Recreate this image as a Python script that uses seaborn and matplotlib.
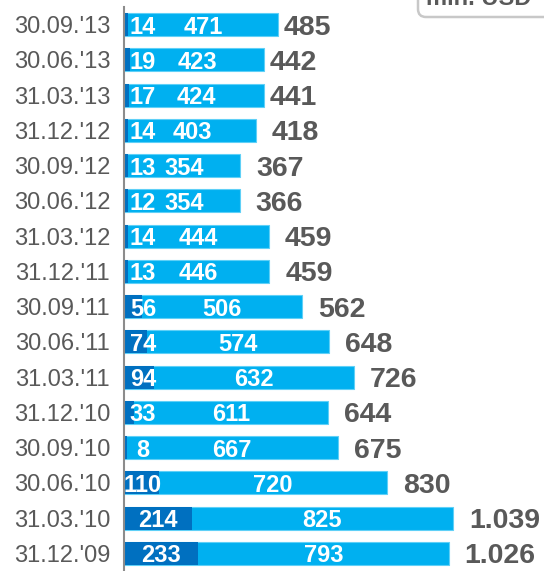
import pandas as pd
import numpy as np
import matplotlib
matplotlib.use("Agg")
import matplotlib.pyplot as plt
import matplotlib.patches as mpatches
from matplotlib.transforms import IdentityTransform
import seaborn as sns

# =============================
# data (top row first)
# =============================
periods = ["30.09.'13", "30.06.'13", "31.03.'13", "31.12.'12", "30.09.'12", "30.06.'12",
           "31.03.'12", "31.12.'11", "30.09.'11", "30.06.'11", "31.03.'11", "31.12.'10",
           "30.09.'10", "30.06.'10", "31.03.'10", "31.12.'09"]
dark_vals = [14, 19, 17, 14, 13, 12, 14, 13, 56, 74, 94, 33, 8, 110, 214, 233]
light_vals = [471, 423, 424, 403, 354, 354, 444, 446, 506, 574, 632, 611, 667, 720, 825, 793]
totals = [485, 442, 441, 418, 367, 366, 459, 459, 562, 648, 726, 644, 675, 830, 1039, 1026]
total_labels = ["485", "442", "441", "418", "367", "366", "459", "459", "562", "648",
                "726", "644", "675", "830", "1.039", "1.026"]
unit_label = "mln. USD"

DARK = "#0070C0"
LIGHT = "#00B0F0"
GREY_TXT = "#595959"
AXIS_GREY = "#8c8c8c"

df = pd.DataFrame({"period": periods, "dark": dark_vals, "light": light_vals})
df["stack"] = df["dark"] + df["light"]

sns.set_style("white")
plt.rcParams["font.family"] = ["Liberation Sans", "DejaVu Sans"]

W, H = 544, 571
fig = plt.figure(figsize=(W / 100, H / 100), dpi=100)

# axes geometry (pixels)
x_axis = 124
top_px = 7
ax = fig.add_axes([x_axis / W, 0, 418 / W, (H - top_px) / H])

sns.barplot(data=df, y="period", x="stack", color=LIGHT, orient="h", width=0.65,
            saturation=1, ax=ax, edgecolor="#5fd0f7", linewidth=0.8)
sns.barplot(data=df, y="period", x="dark", color=DARK, orient="h", width=0.65,
            saturation=1, ax=ax, linewidth=0)

ax.set_xlim(0, 1320)
ax.set_ylim(15.45, -0.5)
ax.set_xlabel("")
ax.set_ylabel("")
ax.set_xticks([])

# spines
for s in ["top", "right", "bottom"]:
    ax.spines[s].set_visible(False)
ax.spines["left"].set_color(AXIS_GREY)
ax.spines["left"].set_linewidth(1.5)

# labels at centres, tick marks at boundaries
ax.set_yticks(range(len(periods)))
ax.set_yticklabels(periods, fontsize=17, color=GREY_TXT)
ax.tick_params(axis="y", which="major", length=0, pad=10)
ax.set_yticks(np.arange(-0.5, len(periods), 1.0), minor=True)
ax.tick_params(axis="y", which="minor", length=6, width=1.5, color=AXIS_GREY, direction="out")

# value labels
for i in range(len(periods)):
    d, l = dark_vals[i], light_vals[i]
    gap = 18 if i < 3 else 50
    ax.text(max(d / 2, 60), i, str(d), ha="center", va="center_baseline",
            fontsize=17, fontweight="bold", color="white")
    ax.text(d + l / 2, i, str(l), ha="center", va="center_baseline",
            fontsize=17, fontweight="bold", color="white")
    ax.text(d + l + gap, i, total_labels[i], ha="left", va="center_baseline",
            fontsize=20.5, fontweight="bold", color=GREY_TXT)

# unit box, cut off at the top edge (as in the source)
box = mpatches.FancyBboxPatch((418, H - 17), 160, 40,
                              boxstyle="round,pad=0,rounding_size=8",
                              transform=IdentityTransform(), facecolor="white",
                              edgecolor="#c8c8c8", linewidth=1.8)
fig.patches.append(box)
fig.text(426 / W, 1 - 5 / H, unit_label, ha="left", va="baseline",
         fontsize=17, fontweight="bold", color=GREY_TXT)

fig.savefig("out.png", dpi=100)
